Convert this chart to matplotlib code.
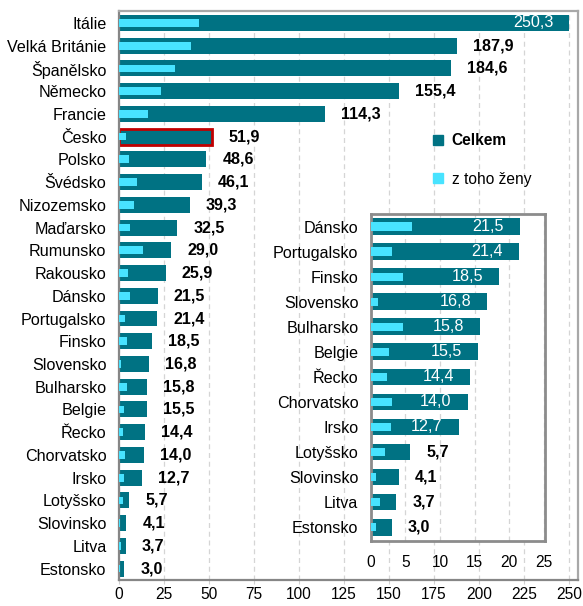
import matplotlib.pyplot as plt
from matplotlib.lines import Line2D

plt.rcParams['font.family'] = ['Liberation Sans', 'DejaVu Sans']

countries = ['Itálie', 'Velká Británie', 'Španělsko', 'Německo', 'Francie', 'Česko',
             'Polsko', 'Švédsko', 'Nizozemsko', 'Maďarsko', 'Rumunsko', 'Rakousko',
             'Dánsko', 'Portugalsko', 'Finsko', 'Slovensko', 'Bulharsko', 'Belgie',
             'Řecko', 'Chorvatsko', 'Irsko', 'Lotyšsko', 'Slovinsko', 'Litva', 'Estonsko']
total = [250.3, 187.9, 184.6, 155.4, 114.3, 51.9, 48.6, 46.1, 39.3, 32.5, 29.0, 25.9,
         21.5, 21.4, 18.5, 16.8, 15.8, 15.5, 14.4, 14.0, 12.7, 5.7, 4.1, 3.7, 3.0]
women = [44.6, 40.3, 31.1, 23.3, 16.1, 3.7, 5.6, 9.8, 8.1, 5.9, 13.3, 4.8,
         5.9, 3.1, 4.7, 1.1, 4.7, 2.7, 2.4, 3.1, 2.9, 2.1, 0.7, 1.3, 0.7]
inset_from = 'Dánsko'

teal = '#007283'
cyan = '#48E3FF'
red = '#C00000'

fig = plt.figure(figsize=(5.83, 6.06), dpi=100)
ax = fig.add_axes([0.204, 0.043, 0.787, 0.939])

n = len(countries)
ypos = list(range(n))
bars = ax.barh(ypos, total, height=0.7, color=teal, zorder=2)
ax.barh(ypos, women, height=0.34, color=cyan, zorder=3)
ci = countries.index('Česko')
bars[ci].set_edgecolor(red)
bars[ci].set_linewidth(2)

for y, v in zip(ypos, total):
    txt = f'{v:.1f}'.replace('.', ',')
    if v > 200:
        ax.annotate(txt, (v, y), xytext=(-11, 0), textcoords='offset points',
                    ha='right', va='center', color='white', fontsize=11.6, zorder=4)
    else:
        ax.annotate(txt, (v, y), xytext=(11.5, 0), textcoords='offset points',
                    ha='left', va='center', color='black', fontsize=11.6,
                    fontweight='bold', zorder=4)

ax.set_xlim(0, 255)
ax.set_ylim(n - 0.5, -0.53)
ax.set_xticks(range(0, 251, 25))
ax.set_yticks(ypos)
ax.set_yticklabels(countries, fontsize=11.6)
ax.tick_params(axis='y', length=0, pad=9)
ax.tick_params(axis='x', labelsize=11.2, length=3, color='#D0D0D0', pad=2)
ax.grid(axis='x', color='#D5D5D5', linestyle=(0, (4, 3)), linewidth=0.9, zorder=0)
for side in ['left', 'bottom']:
    ax.spines[side].set_color('#868686')
    ax.spines[side].set_linewidth(1.6)
for side in ['top', 'right']:
    ax.spines[side].set_color('#A8A8A8')
    ax.spines[side].set_linewidth(1.6)

handles = [Line2D([], [], marker='s', linestyle='none', color=teal, markersize=7),
           Line2D([], [], marker='s', linestyle='none', color=cyan, markersize=7)]
leg = fig.legend(handles, ['Celkem', 'z toho ženy'], loc='upper left',
                 bbox_to_anchor=(0.716, 0.803), frameon=False, fontsize=11.2,
                 handlelength=0.8, handletextpad=0.5, labelspacing=1.5)
leg.get_texts()[0].set_fontweight('bold')

# inset with the smaller countries
k = countries.index(inset_from)
sub_c = countries[k:]
sub_t = total[k:]
sub_w = women[k:]
axi = fig.add_axes([0.636, 0.107, 0.299, 0.54])
m = len(sub_c)
ypi = list(range(m))
axi.barh(ypi, sub_t, height=0.67, color=teal, zorder=2)
axi.barh(ypi, sub_w, height=0.34, color=cyan, zorder=3)
for y, v in zip(ypi, sub_t):
    txt = f'{v:.1f}'.replace('.', ',')
    if v > 10:
        axi.annotate(txt, (v, y), xytext=(-11.5, 0), textcoords='offset points',
                     ha='right', va='center', color='white', fontsize=11.6, zorder=4)
    else:
        axi.annotate(txt, (v, y), xytext=(11.5, 0), textcoords='offset points',
                     ha='left', va='center', color='black', fontsize=11.6,
                     fontweight='bold', zorder=4)
axi.set_xlim(0, 25.2)
axi.set_ylim(m - 0.44, -0.51)
axi.set_xticks(range(0, 26, 5))
axi.set_yticks(ypi)
axi.set_yticklabels(sub_c, fontsize=11.6)
axi.tick_params(axis='y', length=0, pad=9)
axi.tick_params(axis='x', labelsize=11.2, length=0, pad=10)
axi.grid(axis='x', color='#D5D5D5', linestyle=(0, (4, 3)), linewidth=0.9, zorder=0)
for side in axi.spines.values():
    side.set_color('#8C8C8C')
    side.set_linewidth(2)

fig.savefig('out.png', dpi=100)
